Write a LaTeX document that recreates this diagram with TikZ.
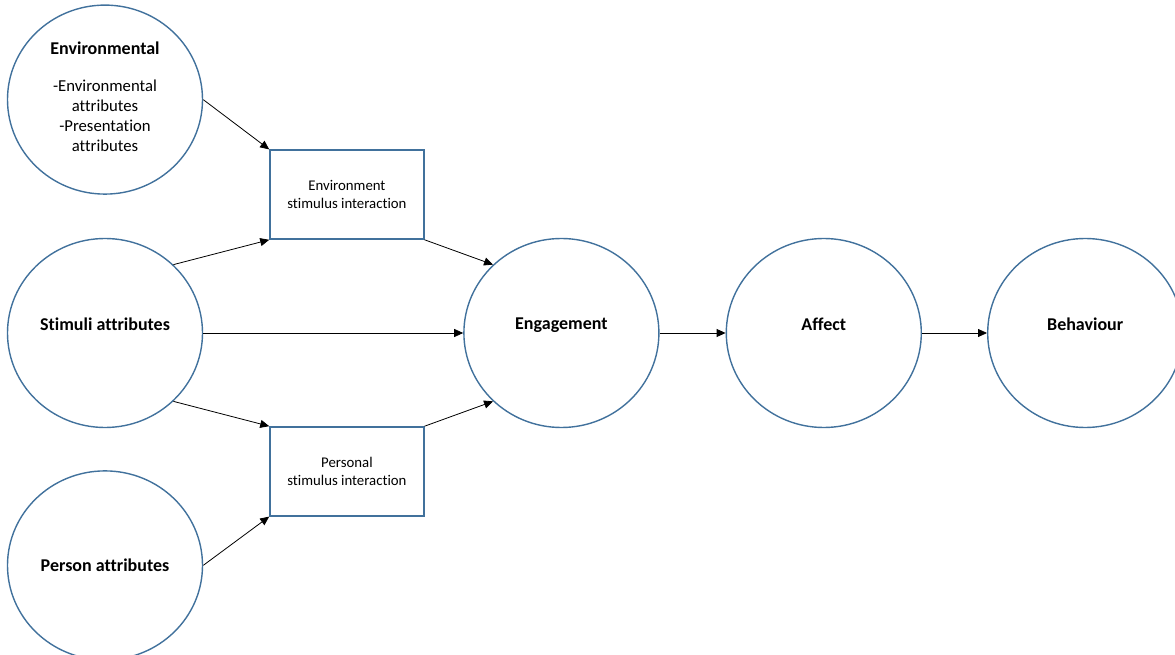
\documentclass[tikz,border=0pt]{standalone}
\usepackage{fontspec}
\setmainfont{Carlito}[Ligatures=NoCommon]
\usetikzlibrary{positioning, shapes.geometric, arrows.meta}
\definecolor{outline}{HTML}{41719C}
\tikzset{
  >={Triangle[length=9pt, width=8pt]},
  every edge/.style={draw, ->, line width=0.8pt},
  blob/.style={ellipse, draw=outline, line width=1.4pt, inner sep=0pt,
    minimum width=195pt, minimum height=189pt, align=center,
    font=\fontsize{18}{21}\selectfont\bfseries},
  raised/.style={text depth=18pt},
  box/.style={rectangle, draw=outline, line width=1.4pt, inner sep=0pt,
    minimum width=154pt, minimum height=89pt, align=center,
    font=\fontsize{14.8}{18}\selectfont},
}

\begin{document}
\begin{tikzpicture}
    \useasboundingbox (0,0) rectangle (1175pt,654pt);

    % factors
    \node[blob, raised] (stim) at (105pt,321pt) {Stimuli attributes};
    \node[blob, above=43pt of stim, text depth=6pt,
          font=\fontsize{16.7}{20}\selectfont] (env)
        {{\fontsize{18}{20}\selectfont\bfseries Environmental}\\[17pt]
         -Environmental\\attributes\\-Presentation\\attributes};
    \node[blob, below=42pt of stim] (pers) {Person attributes};

    % interactions
    \node[box, anchor=south west] (envint) at ([xshift=66pt, yshift=-2pt]stim.north -| stim.east)
        {Environment\\stimulus interaction};
    \node[box, anchor=north west] (persint) at ([xshift=66pt, yshift=2pt]stim.south -| stim.east)
        {Personal\\stimulus interaction};

    % outcomes
    \node[blob, raised, right=260pt of stim] (eng) {Engagement};
    \node[blob, raised, right=66pt of eng] (aff) {Affect};
    \node[blob, raised, right=65pt of aff] (beh) {Behaviour};

    % paths
    \draw (env.east) edge (envint.north west)
          (stim.45) edge (envint.south west)
          (stim.-45) edge (persint.north west)
          (pers.east) edge (persint.south west)
          (stim.east) edge (eng.west)
          (envint.south east) edge (eng.135)
          (persint.north east) edge (eng.225)
          (eng.east) edge (aff.west)
          (aff.east) edge (beh.west);

\end{tikzpicture}
\end{document}
